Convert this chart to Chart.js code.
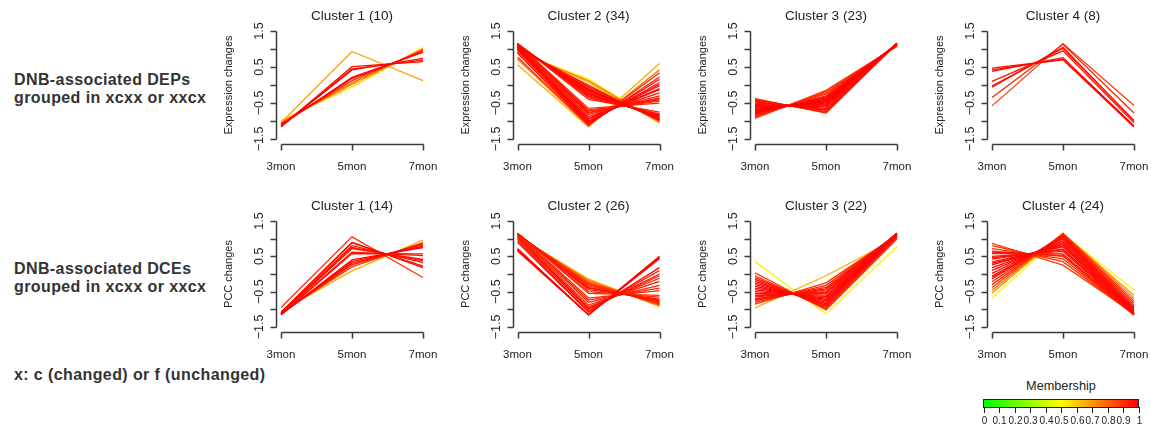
<!DOCTYPE html>
<html>
<head>
<meta charset="utf-8">
<script src="https://cdn.jsdelivr.net/npm/chart.js@4.4.1/dist/chart.umd.min.js"></script>
<style>
  body { margin: 0; background: #fff; }
  #page { position: relative; width: 1151px; height: 429px; overflow: hidden; font-family: "Liberation Sans", Arial, sans-serif; }
  #page canvas { position: absolute; left: 0; top: 0; }
  .side { position: absolute; left: 14px; font-weight: bold; font-size: 16px; line-height: 16px; letter-spacing: 0.4px; color: #333; white-space: nowrap; }
  #legendTitle { position: absolute; left: 983px; width: 156px; top: 379px; text-align: center; font-size: 12.7px; line-height: 14px; color: #222; }
  #legendBar { position: absolute; left: 983px; top: 399px; width: 154px; height: 7px; border: 1px solid #222;
    background: linear-gradient(to right, #00ff00, #ffff00, #ff0000); }
  #legendTicks { position: absolute; left: 0; top: 0; }
</style>
</head>
<body>
<div id="page">
  <div class="side" style="top:72px">DNB-associated DEPs</div>
  <div class="side" style="top:90px">grouped in xcxx or xxcx</div>
  <div class="side" style="top:260.5px">DNB-associated DCEs</div>
  <div class="side" style="top:278.5px">grouped in xcxx or xxcx</div>
  <div class="side" style="top:367px">x: c (changed) or f (unchanged)</div>
  <div id="legendTitle">Membership</div>
  <div id="legendBar"></div>
  <canvas id="legendTicks" width="1151" height="429"></canvas>
</div>
<script>
const timeLabels = ["3mon", "5mon", "7mon"];
const yTicks = [-1.5, -1, -0.5, 0, 0.5, 1, 1.5];
const yTickLabels = ["\u22121.5", "", "\u22120.5", "", "0.5", "", "1.5"];
const membershipTicks = ["0", "0.1", "0.2", "0.3", "0.4", "0.5", "0.6", "0.7", "0.8", "0.9", "1"];

const depTitles = ["Cluster 1 (10)", "Cluster 2 (34)", "Cluster 3 (23)", "Cluster 4 (8)"];
const dceTitles = ["Cluster 1 (14)", "Cluster 2 (26)", "Cluster 3 (22)", "Cluster 4 (24)"];

// DEP clusters: [3mon, 5mon, 7mon] per protein
const depCluster1 = [
  [-1.05, 0.93, 0.12], [-1.16, 0.51, 0.65], [-1.16, 0.42, 0.74], [-1.14, 0.45, 0.69], [-1.12, 0.21, 0.91],
  [-1.10, 0.18, 0.92], [-1.08, 0.12, 0.96], [-1.05, 0.06, 0.99], [-1.02, 0.01, 1.01], [-0.98, -0.06, 1.04]
];
const depMembership1 = [0.68, 0.97, 0.99, 0.96, 1.0, 0.97, 0.92, 0.8, 0.68, 0.55];

const depCluster2 = [
  [0.89, 0.17, -1.06], [0.95, 0.08, -1.03], [0.92, 0.12, -1.04], [1.00, 0.00, -1.00], [1.01, -0.03, -0.98],
  [1.04, -0.06, -0.98], [1.06, -0.10, -0.96], [1.07, -0.12, -0.95], [1.09, -0.15, -0.94], [1.08, -0.18, -0.90],
  [1.12, -0.22, -0.90], [1.12, -0.24, -0.88], [1.13, -0.27, -0.86], [1.14, -0.30, -0.84], [1.15, -0.33, -0.82],
  [1.15, -0.35, -0.80], [1.155, -0.40, -0.755],
  [0.56, -1.16, 0.60], [0.72, -1.14, 0.42], [0.78, -1.12, 0.34], [0.88, -1.10, 0.22], [0.92, -1.08, 0.16],
  [0.98, -1.05, 0.07], [1.00, -1.02, 0.02], [1.02, -1.00, -0.02], [1.05, -0.95, -0.10], [1.06, -0.93, -0.13],
  [1.10, -0.88, -0.22], [1.12, -0.82, -0.30], [1.14, -0.78, -0.36], [1.14, -0.76, -0.38], [1.13, -0.72, -0.41],
  [1.15, -0.70, -0.45], [1.155, -0.65, -0.505]
];
const depMembership2 = [0.52, 0.66, 0.74, 0.9, 0.93, 0.95, 0.97, 0.98, 0.99, 0.99, 0.99, 0.98, 0.97, 0.96, 0.95, 0.94, 0.93,
  0.66, 0.78, 0.92, 0.95, 0.97, 0.98, 0.99, 0.99, 0.99, 0.98, 0.97, 0.96, 0.95, 0.95, 0.94, 0.93, 0.92];

const depCluster3 = [
  [-0.93, -0.15, 1.08], [-0.90, -0.18, 1.08], [-0.88, -0.22, 1.10], [-0.85, -0.25, 1.10], [-0.82, -0.30, 1.12],
  [-0.80, -0.32, 1.12], [-0.78, -0.35, 1.13], [-0.76, -0.37, 1.13], [-0.75, -0.39, 1.14], [-0.72, -0.43, 1.15],
  [-0.70, -0.45, 1.15], [-0.68, -0.47, 1.15], [-0.65, -0.50, 1.15], [-0.62, -0.53, 1.15], [-0.60, -0.55, 1.15],
  [-0.57, -0.58, 1.15], [-0.54, -0.61, 1.15], [-0.50, -0.65, 1.15], [-0.47, -0.68, 1.15], [-0.45, -0.70, 1.15],
  [-0.42, -0.74, 1.16], [-0.40, -0.76, 1.16], [-0.38, -0.78, 1.16]
];
const depMembership3 = [0.88, 0.9, 0.92, 0.94, 0.96, 0.97, 0.98, 0.99, 0.99, 1, 1, 1, 0.99, 0.99, 0.98,
  0.98, 0.98, 0.97, 0.97, 0.96, 0.95, 0.94, 0.93];

const depCluster4 = [
  [0.47, 0.70, -1.17], [0.42, 0.72, -1.14], [0.38, 0.76, -1.14], [0.10, 0.95, -1.05],
  [-0.03, 1.02, -0.99], [-0.06, 1.05, -0.99], [-0.35, 1.13, -0.78], [-0.58, 1.15, -0.57]
];
const depMembership4 = [0.98, 0.99, 0.97, 0.96, 0.98, 0.95, 0.93, 0.88];

// DCE clusters
const dceCluster1 = [
  [-1.05, 0.09, 0.96], [-0.95, 1.05, -0.10], [-1.08, 0.90, 0.18], [-1.10, 0.88, 0.22], [-1.12, 0.80, 0.32],
  [-1.12, 0.75, 0.37], [-1.13, 0.72, 0.41], [-1.14, 0.62, 0.52], [-1.15, 0.58, 0.57], [-1.15, 0.40, 0.75],
  [-1.14, 0.35, 0.79], [-1.13, 0.30, 0.83], [-1.12, 0.26, 0.86], [-1.09, 0.20, 0.89]
];
const dceMembership1 = [0.66, 0.9, 0.98, 0.99, 0.97, 0.95, 0.96, 0.95, 0.97, 0.98, 0.99, 0.97, 0.95, 0.9];

const dceCluster2 = [
  [0.65, -1.15, 0.50], [0.68, -1.16, 0.48], [0.70, -1.15, 0.45], [0.72, -1.15, 0.43], [0.90, -1.08, 0.18],
  [0.95, -1.05, 0.10], [1.00, -1.00, 0.00], [1.03, -0.98, -0.05], [1.06, -0.94, -0.12], [1.09, -0.88, -0.21],
  [1.12, -0.80, -0.32], [1.14, -0.74, -0.40], [1.15, -0.68, -0.47],
  [1.06, -0.14, -0.92], [1.07, -0.17, -0.90], [1.08, -0.20, -0.88], [1.09, -0.22, -0.87], [1.10, -0.25, -0.85],
  [1.11, -0.28, -0.83], [1.12, -0.30, -0.82], [1.13, -0.34, -0.79], [1.14, -0.38, -0.76], [1.14, -0.40, -0.74],
  [1.15, -0.44, -0.71], [1.155, -0.50, -0.655], [1.155, -0.55, -0.605]
];
const dceMembership2 = [0.98, 0.99, 0.97, 0.96, 0.97, 0.96, 0.95, 0.96, 0.95, 0.95, 0.94, 0.93, 0.92,
  0.66, 0.72, 0.78, 0.82, 0.86, 0.9, 0.92, 0.94, 0.96, 0.96, 0.95, 0.94, 0.92];

const dceCluster3 = [
  [0.35, -1.13, 0.78], [-0.96, -0.05, 1.01], [0.03, -1.02, 0.99], [-0.05, -0.98, 1.03], [-0.10, -0.95, 1.05],
  [-0.15, -0.91, 1.06], [-0.20, -0.88, 1.08], [-0.25, -0.84, 1.09], [-0.30, -0.80, 1.10], [-0.35, -0.76, 1.11],
  [-0.40, -0.72, 1.12], [-0.45, -0.68, 1.13], [-0.50, -0.64, 1.14], [-0.55, -0.60, 1.15], [-0.60, -0.55, 1.15],
  [-0.62, -0.53, 1.15], [-0.65, -0.50, 1.15], [-0.70, -0.45, 1.15], [-0.72, -0.42, 1.14], [-0.75, -0.38, 1.13],
  [-0.80, -0.32, 1.12], [-0.85, -0.25, 1.10]
];
const dceMembership3 = [0.52, 0.66, 0.88, 0.92, 0.95, 0.96, 0.97, 0.98, 0.99, 0.99, 0.99, 0.99, 0.98, 0.98, 0.98,
  0.97, 0.97, 0.96, 0.96, 0.95, 0.93, 0.9];

const dceCluster4 = [
  [-0.68, 1.13, -0.45], [-0.54, 1.15, -0.61], [-0.46, 1.15, -0.69], [-0.38, 1.14, -0.76], [-0.30, 1.12, -0.82],
  [-0.22, 1.10, -0.88], [-0.14, 1.07, -0.93], [-0.10, 1.05, -0.95], [-0.06, 1.03, -0.97], [0.02, 0.99, -1.01],
  [0.10, 0.94, -1.04], [0.18, 0.89, -1.07], [0.26, 0.84, -1.10], [0.30, 0.80, -1.10], [0.34, 0.77, -1.11],
  [0.42, 0.71, -1.13], [0.46, 0.68, -1.14], [0.50, 0.64, -1.14], [0.58, 0.57, -1.15], [0.62, 0.53, -1.15],
  [0.65, 0.50, -1.15], [0.72, 0.43, -1.15], [0.80, 0.35, -1.15], [0.87, 0.25, -1.12]
];
const dceMembership4 = [0.52, 0.72, 0.8, 0.88, 0.92, 0.94, 0.96, 0.97, 0.97, 0.98, 0.99, 0.99, 0.99, 0.98, 0.98,
  0.97, 0.97, 0.96, 0.96, 0.95, 0.94, 0.92, 0.9, 0.88];

// page layout (pixels)
const W = 1151, H = 429;
const colLeft = [281, 517.5, 755, 992];
const plotWidth = 142;
const rowTop = [31, 221];
const rowBottom = [139, 327];

// membership colour: green -> yellow -> red
function memColor(m) {
  let r, g;
  if (m < 0.5) { r = Math.round(510 * m); g = 255; }
  else { r = 255; g = Math.round(510 * (1 - m)); }
  return `rgb(${r},${g},0)`;
}

// R-style detached axes, drawn from the chart's scales
const rAxes = {
  id: "rAxes",
  afterDatasetsDraw(chart, args, opts) {
    const ctx = chart.ctx;
    const xs = chart.scales.x, ys = chart.scales.y;
    const left = xs.getPixelForValue(0), right = xs.getPixelForValue(timeLabels.length - 1);
    const top = ys.getPixelForValue(1.5), bottom = ys.getPixelForValue(-1.5);
    const axisX = Math.round(left - 5) + 0.5;
    const axisY = Math.round(bottom + 5) + 0.5;

    ctx.save();
    ctx.strokeStyle = "#3a3a3a";
    ctx.lineWidth = 1.5;
    ctx.beginPath();
    ctx.moveTo(axisX, Math.round(top) + 0.5);
    ctx.lineTo(axisX, Math.round(bottom) + 0.5);
    yTicks.forEach(v => {
      const p = Math.round(ys.getPixelForValue(v)) + 0.5;
      ctx.moveTo(axisX, p);
      ctx.lineTo(axisX - 6, p);
    });
    ctx.moveTo(Math.round(left) + 0.5, axisY);
    ctx.lineTo(Math.round(right) + 0.5, axisY);
    timeLabels.forEach((_, i) => {
      const p = Math.round(xs.getPixelForValue(i)) + 0.5;
      ctx.moveTo(p, axisY);
      ctx.lineTo(p, axisY + 6);
    });
    ctx.stroke();

    ctx.fillStyle = "#222";
    ctx.textAlign = "center";
    ctx.textBaseline = "middle";

    // y tick labels, rotated
    ctx.font = '12.5px "Liberation Sans", Arial, sans-serif';
    yTicks.forEach((v, i) => {
      if (!yTickLabels[i]) return;
      ctx.save();
      ctx.translate(axisX - 17, ys.getPixelForValue(v));
      ctx.rotate(-Math.PI / 2);
      ctx.fillText(yTickLabels[i], 0, 0);
      ctx.restore();
    });

    // x tick labels
    ctx.font = '11.5px "Liberation Sans", Arial, sans-serif';
    timeLabels.forEach((lab, i) => {
      ctx.fillText(lab, xs.getPixelForValue(i), axisY + 22);
    });

    // y axis title
    ctx.font = '11px "Liberation Sans", Arial, sans-serif';
    ctx.save();
    ctx.translate(axisX - 48, (top + bottom) / 2);
    ctx.rotate(-Math.PI / 2);
    ctx.fillText(opts.yTitle, 0, 0);
    ctx.restore();

    // panel title
    ctx.font = '13.5px "Liberation Sans", Arial, sans-serif';
    ctx.fillText(opts.title, (left + right) / 2, top - 15);
    ctx.restore();
  }
};

const panels = [
  { row: 0, col: 0, title: depTitles[0], yTitle: "Expression changes", lines: depCluster1, mem: depMembership1 },
  { row: 0, col: 1, title: depTitles[1], yTitle: "Expression changes", lines: depCluster2, mem: depMembership2 },
  { row: 0, col: 2, title: depTitles[2], yTitle: "Expression changes", lines: depCluster3, mem: depMembership3 },
  { row: 0, col: 3, title: depTitles[3], yTitle: "Expression changes", lines: depCluster4, mem: depMembership4 },
  { row: 1, col: 0, title: dceTitles[0], yTitle: "PCC changes", lines: dceCluster1, mem: dceMembership1 },
  { row: 1, col: 1, title: dceTitles[1], yTitle: "PCC changes", lines: dceCluster2, mem: dceMembership2 },
  { row: 1, col: 2, title: dceTitles[2], yTitle: "PCC changes", lines: dceCluster3, mem: dceMembership3 },
  { row: 1, col: 3, title: dceTitles[3], yTitle: "PCC changes", lines: dceCluster4, mem: dceMembership4 }
];

const page = document.getElementById("page");

panels.forEach(p => {
  const canvas = document.createElement("canvas");
  canvas.width = W;
  canvas.height = H;
  page.appendChild(canvas);

  // highest membership first so it is drawn on top
  const datasets = p.lines.map((vals, i) => ({
    data: vals,
    m: p.mem[i],
    borderColor: memColor(p.mem[i]),
    borderWidth: 1.3,
    pointRadius: 0,
    tension: 0,
    fill: false
  })).sort((a, b) => b.m - a.m);

  new Chart(canvas, {
    type: "line",
    data: { labels: timeLabels, datasets },
    options: {
      responsive: false,
      animation: false,
      devicePixelRatio: 1,
      events: [],
      layout: {
        padding: {
          left: colLeft[p.col],
          right: W - colLeft[p.col] - plotWidth,
          top: rowTop[p.row],
          bottom: H - rowBottom[p.row]
        }
      },
      scales: {
        x: { display: false, offset: false },
        y: { display: false, min: -1.5, max: 1.5 }
      },
      plugins: {
        legend: { display: false },
        tooltip: { enabled: false },
        rAxes: { title: p.title, yTitle: p.yTitle }
      }
    },
    plugins: [rAxes]
  });
});

// membership colour key ticks and labels
const lctx = document.getElementById("legendTicks").getContext("2d");
const barLeft = 983.5, barRight = 1138.5;
lctx.strokeStyle = "#222";
lctx.lineWidth = 1;
lctx.fillStyle = "#222";
lctx.font = '10px "Liberation Sans", Arial, sans-serif';
lctx.textAlign = "center";
lctx.textBaseline = "middle";
lctx.beginPath();
membershipTicks.forEach((lab, i) => {
  const x = Math.round(barLeft + (barRight - barLeft) * i / (membershipTicks.length - 1)) + 0.5;
  lctx.moveTo(x, 407);
  lctx.lineTo(x, 413);
  lctx.fillText(lab, x, 421);
});
lctx.stroke();
</script>
</body>
</html>
